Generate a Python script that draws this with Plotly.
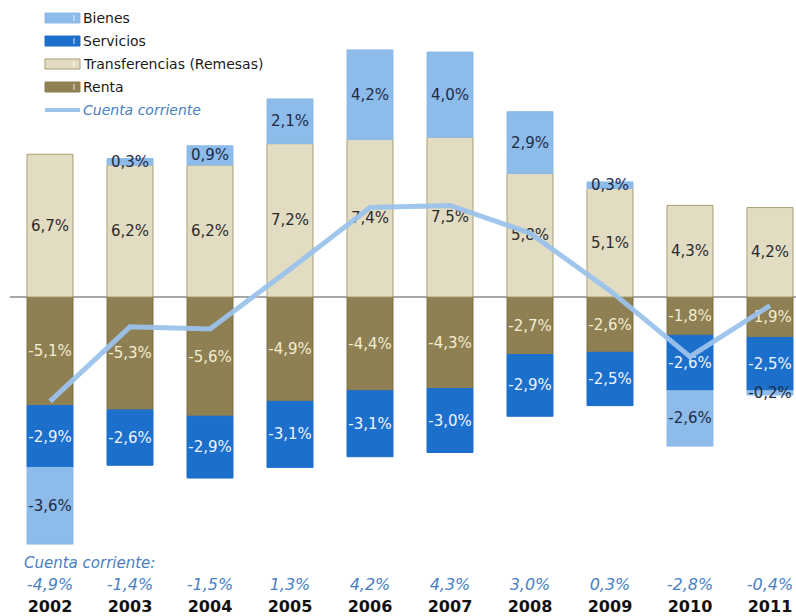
import plotly.graph_objects as go

# Balanza de cuenta corriente, componentes en % del PIB
years = ["2002", "2003", "2004", "2005", "2006", "2007", "2008", "2009", "2010", "2011"]
bienes = [-3.6, 0.3, 0.9, 2.1, 4.2, 4.0, 2.9, 0.3, -2.6, -0.2]
servicios = [-2.9, -2.6, -2.9, -3.1, -3.1, -3.0, -2.9, -2.5, -2.6, -2.5]
transferencias = [6.7, 6.2, 6.2, 7.2, 7.4, 7.5, 5.8, 5.1, 4.3, 4.2]
renta = [-5.1, -5.3, -5.6, -4.9, -4.4, -4.3, -2.7, -2.6, -1.8, -1.9]
cuenta_corriente = [-4.9, -1.4, -1.5, 1.3, 4.2, 4.3, 3.0, 0.3, -2.8, -0.4]

C_BIENES = "#8dbbea"
C_SERV = "#1d6fcc"
C_TRANS = "#e2dcc3"
C_RENTA = "#8e8052"
C_LINE = "#9cc3ec"
C_CC_TXT = "#4a7fc2"
FONT = "DejaVu Sans"

W, H = 796, 616


def px(x):
    return x / W


def py(y):
    return 1 - y / H


def bar(name, vals, color, txtcolor, line_color=None):
    return go.Bar(
        x=years, y=vals, name=name,
        marker=dict(color=color,
                    line=dict(color=line_color or color, width=1)),
        texttemplate="%{y:.1f}%",
        textposition="inside",
        insidetextanchor="middle",
        textangle=0,
        insidetextfont=dict(color=txtcolor, size=15, family=FONT),
        showlegend=False,
    )


fig = go.Figure()
# relative stacking: positives (Transferencias, Bienes) and negatives
# (Renta, Servicios, Bienes) are stacked separately, in trace order
fig.add_trace(bar("Renta", renta, C_RENTA, "#f3edd2", "#7d7046"))
fig.add_trace(bar("Transferencias (Remesas)", transferencias, C_TRANS, "#2b2b2b", "#a99f70"))
fig.add_trace(bar("Servicios", servicios, C_SERV, "#eef4ff"))
fig.add_trace(bar("Bienes", bienes, C_BIENES, "#1d2b45"))
fig.add_trace(go.Scatter(
    x=years, y=cuenta_corriente, name="Cuenta corriente", mode="lines",
    line=dict(color=C_LINE, width=5), opacity=0.95, showlegend=False,
))

# year and current-account rows under the bars, on the same category axis
fig.add_trace(go.Scatter(
    x=years, y=[-13.55] * len(years), mode="text",
    text=[f"<i>{v:.1f}%</i>".replace(".", ",") for v in cuenta_corriente],
    textfont=dict(family=FONT, size=16, color=C_CC_TXT),
    showlegend=False, hoverinfo="skip", cliponaxis=False,
))
fig.add_trace(go.Scatter(
    x=years, y=[-14.6] * len(years), mode="text",
    text=[f"<b>{y}</b>" for y in years],
    textfont=dict(family=FONT, size=16, color="#111111"),
    showlegend=False, hoverinfo="skip", cliponaxis=False,
))

shapes = [
    # zero reference line
    dict(type="line", xref="paper", yref="y", x0=px(10), x1=1, y0=0, y1=0,
         line=dict(color="#8a8a8a", width=1.5), layer="below"),
]
annotations = []

# legend drawn with wide swatches
legend_items = [
    ("Bienes", C_BIENES, "rect", False),
    ("Servicios", C_SERV, "rect", False),
    ("Transferencias (Remesas)", C_TRANS, "rect", False),
    ("Renta", C_RENTA, "rect", False),
    ("Cuenta corriente", C_LINE, "line", True),
]
for i, (label, color, kind, italic) in enumerate(legend_items):
    yc = 18 + 23 * i
    if kind == "rect":
        shapes.append(dict(type="rect", xref="paper", yref="paper",
                           x0=px(45), x1=px(80), y0=py(yc - 5), y1=py(yc + 5),
                           fillcolor=color,
                           line=dict(color="#a99f70" if color == C_TRANS else color, width=1)))
        shapes.append(dict(type="line", xref="paper", yref="paper",
                           x0=px(74), x1=px(74), y0=py(yc - 3), y1=py(yc + 3),
                           line=dict(color="rgba(255,255,255,0.8)", width=1)))
    else:
        shapes.append(dict(type="line", xref="paper", yref="paper",
                           x0=px(45), x1=px(80), y0=py(yc), y1=py(yc),
                           line=dict(color=color, width=4)))
    annotations.append(dict(
        xref="paper", yref="paper", x=px(81), y=py(yc), xanchor="left", yanchor="middle",
        text=f"<i>{label}</i>" if italic else label, showarrow=False,
        font=dict(family=FONT, size=14, color=C_CC_TXT if italic else "#1a1a1a"),
    ))

annotations.append(dict(
    xref="paper", yref="paper", x=px(22), y=py(563), xanchor="left", yanchor="middle",
    text="<i>Cuenta corriente:</i>", showarrow=False,
    font=dict(family=FONT, size=15, color=C_CC_TXT),
))

scale = 21.3  # pixels per percentage point
hidden = dict(showticklabels=False, showgrid=False, zeroline=False, showline=False, ticks="")
fig.update_layout(
    width=W, height=H,
    margin=dict(l=0, r=0, t=0, b=0),
    barmode="relative",
    bargap=0.425,
    separators=",.",
    uniformtext=dict(mode="show", minsize=15),
    plot_bgcolor="white", paper_bgcolor="white",
    font=dict(family=FONT),
    shapes=shapes,
    annotations=annotations,
    xaxis=dict(type="category", range=[-0.625, 9.325], **hidden),
    yaxis=dict(range=[-(H - 297) / scale, 297 / scale], **hidden),
)

fig.write_html("out.html")
